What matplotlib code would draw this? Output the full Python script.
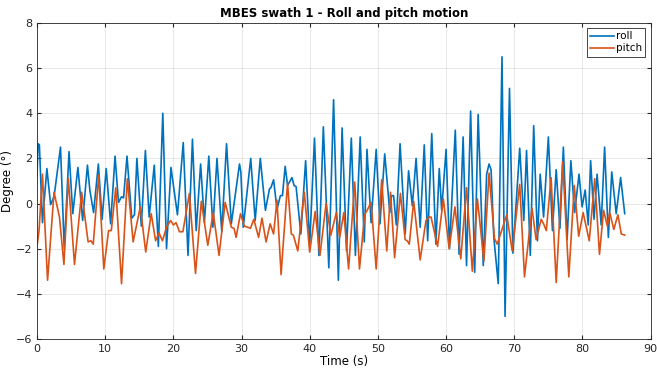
import matplotlib
matplotlib.use("Agg")
import matplotlib.pyplot as plt

# roll / pitch samples (time in s, angle in degrees)
roll_t = [0.0, 0.15, 0.35, 0.8, 1.45, 2.0, 2.5, 3.45, 4.0, 4.7, 5.25, 6.0, 6.7, 7.4, 7.75, 8.3,
          9.0, 9.55, 10.15, 10.8, 11.45, 11.95, 12.4, 12.7, 13.2, 13.9, 14.3, 14.65, 15.3, 15.9,
          16.45, 17.2, 17.8, 18.45, 19.0, 19.65, 20.6, 21.45, 22.15, 22.8, 23.35, 24.0, 24.55,
          25.2, 25.8, 26.4, 27.1, 27.8, 28.5, 29.7, 29.9, 30.25, 31.35, 32.0, 32.75, 33.5, 34.1,
          34.3, 34.7, 35.2, 35.7, 36.0, 36.4, 36.75, 37.4, 37.7, 38.0, 38.7, 39.4, 40.0, 40.7,
          41.35, 42.0, 42.8, 43.5, 44.2, 44.75, 45.4, 46.1, 46.7, 47.4, 48.0, 48.4, 49.0, 49.75,
          50.3, 51.0, 51.75, 52.0, 52.3, 52.7, 53.25, 54.0, 54.5, 55.05, 55.6, 56.2, 56.8, 57.3,
          57.9, 58.5, 59.0, 59.35, 60.0, 60.5, 61.35, 61.9, 62.5, 63.0, 63.6, 64.2, 64.7, 65.45,
          65.95, 66.3, 66.6, 67.0, 67.65, 68.2, 68.65, 69.3, 69.8, 70.8, 71.4, 71.8, 72.35, 72.85,
          73.4, 73.8, 74.3, 75.0, 75.6, 76.15, 76.7, 77.2, 77.75, 78.3, 78.85, 79.5, 79.95, 80.4,
          80.85, 81.2, 81.7, 82.15, 82.75, 83.25, 83.8, 84.3, 84.95, 85.6, 86.2]
roll = [1.2, 2.65, 2.6, -0.85, 1.55, -0.05, 0.3, 2.5, -2.0, 2.3, -0.45, 1.6, -0.75, 1.7, 0.6, -0.4,
        1.75, -0.7, 1.55, -0.9, 2.1, 0.05, 0.3, 0.25, 2.1, -0.65, -0.5, 2.0, -1.0, 2.35,
        -0.6, 1.7, -1.9, 4.0, -2.0, 1.6, -0.5, 2.7, -2.3, 2.85, -1.2, 1.75, -0.85,
        2.1, -1.05, 2.0, -1.25, 2.65, -0.9, 1.75, 1.4, -1.05, 2.0, -0.75, 2.0, -0.3, 0.65,
        0.7, 1.05, -0.25, 0.35, 0.35, 1.65, 0.8, 1.15, 0.8, 0.75, -1.35, 1.9, -1.8, 2.9,
        -2.3, 3.4, -2.85, 4.6, -3.4, 3.35, -2.1, 2.9, -2.3, 2.95, -1.7, 2.4, -0.85, 2.4,
        -0.9, 2.2, -0.4, 0.35, 0.35, -0.95, 2.65, -1.35, 1.45, -0.1, 2.0, -1.05, 2.6, -1.65,
        3.1, -1.8, 1.55, -0.3, 2.4, -2.0, 3.25, -2.25, 2.95, -2.75, 4.1, -3.05, 3.95, -2.75,
        1.3, 1.75, 1.5, -1.5, -3.55, 6.5, -5.0, 5.1, -2.2, 2.45, -0.75, 2.35, -2.3, 3.45,
        -1.65, 1.3, -0.6, 2.95, -1.2, 1.5, -1.1, 2.5, -1.6, 1.9, -0.4, 1.3, -0.15, 0.6,
        -0.95, 1.9, -0.7, 1.3, -0.95, 2.5, -1.5, 1.4, -0.45, 1.15, -0.45]

pitch_t = [0.0, 0.3, 0.8, 1.55, 2.5, 3.3, 3.95, 4.6, 5.5, 6.55, 7.5, 7.9, 8.25, 9.05, 9.8, 10.5,
           10.9, 11.55, 12.4, 13.25, 14.1, 15.15, 15.95, 16.75, 17.4, 17.9, 18.4, 19.0, 19.6,
           20.0, 20.4, 20.9, 21.4, 22.35, 23.25, 24.1, 25.05, 25.85, 26.7, 27.6, 28.5, 28.9,
           29.2, 29.85, 30.4, 30.9, 31.3, 31.8, 32.5, 33.0, 33.6, 34.2, 34.7, 35.2, 35.8, 36.75,
           37.3, 37.6, 38.25, 39.2, 40.0, 40.8, 41.5, 42.4, 43.1, 43.9, 44.4, 45.0, 45.7, 46.6,
           47.3, 48.05, 48.5, 49.0, 49.75, 50.55, 51.3, 51.85, 52.45, 53.3, 54.0, 54.3, 54.6,
           55.25, 56.2, 57.05, 57.5, 57.8, 58.75, 59.6, 60.45, 61.3, 62.15, 63.0, 63.85, 64.6,
           65.55, 66.3, 67.1, 67.5, 68.9, 69.7, 70.8, 71.5, 72.6, 73.2, 73.95, 74.3, 74.7, 75.4,
           76.15, 77.1, 78.0, 78.8, 79.45, 80.1, 81.0, 81.8, 82.5, 83.1, 83.65, 84.0, 84.6,
           85.2, 85.7, 86.2]
pitch = [-1.9, -1.2, 1.3, -3.4, 0.5, -0.6, -2.7, 1.1, -2.7, 0.5, -1.7, -1.65, -1.8, 1.25, -2.9, -1.2,
         -1.2, 0.7, -3.55, 1.1, -1.7, -0.15, -2.15, -0.45, -1.65, -1.3, -1.65, -1.05, -0.75,
         -0.95, -0.85, -1.25, -1.25, 0.45, -3.1, 0.1, -1.85, -0.4, -2.3, 0.05, -1.05, -1.1,
         -1.5, -0.45, -1.0, -1.05, -1.1, -0.7, -1.5, -0.65, -1.7, -0.9, -1.35, 0.15, -3.15, 0.9,
         -1.35, -1.4, -2.1, 0.5, -2.15, -0.35, -2.3, 0.0, -1.4, -0.4, -1.5, -0.4, -2.9, 0.95,
         -2.9, -0.5, -0.25, 0.05, -2.9, 1.05, -2.1, 0.5, -2.4, 0.45, -1.6, -1.65, -1.8,
         0.1, -2.5, -0.75, -0.6, -0.6, -1.9, 0.2, -2.0, -0.15, -2.45, 0.7, -3.0, 0.2,
         -2.55, 1.35, -1.55, -1.8, -0.5, -2.1, 0.85, -3.25, -0.2, -1.6, -0.7, -0.9, -1.2, 1.15,
         -3.5, 1.85, -3.25, 0.8, -1.45, -0.4, -1.65, 1.1, -2.25, -0.3, -1.0, -0.4, -1.15,
         -0.5, -1.35, -1.4]

plt.rcParams['font.family'] = ['DejaVu Sans']
fig = plt.figure(figsize=(6.57, 3.77), dpi=100)
ax = fig.add_axes([0.0563, 0.101, 0.934, 0.838])

ax.plot(roll_t, roll, color='#0072BD', lw=1.2, label='roll')
ax.plot(pitch_t, pitch, color='#D95319', lw=1.2, label='pitch')

ax.set_xlim(0, 90)
ax.set_ylim(-6, 8)
ax.set_xticks(range(0, 91, 10))
ax.set_yticks(range(-6, 9, 2))
ax.grid(True, color='#262626', alpha=0.12, lw=0.6)
ax.tick_params(direction='in', top=True, right=True, labelsize=8, colors='#262626', length=3)
for s in ax.spines.values():
    s.set_color('#262626')
    s.set_linewidth(0.6)

ax.set_title('MBES swath 1 - Roll and pitch motion', fontsize=8.5, fontweight='bold', pad=4)
ax.set_xlabel('Time (s)', fontsize=8.5, labelpad=1)
ax.set_ylabel('Degree (°)', fontsize=8.5, labelpad=1)

leg = ax.legend(loc='upper right', fontsize=7.5, handlelength=2.3, handletextpad=0.2,
                borderpad=0.3, labelspacing=0.2, fancybox=False, framealpha=1)
leg.get_frame().set_edgecolor('#262626')
leg.get_frame().set_linewidth(0.6)

fig.savefig('out.png', dpi=100)
